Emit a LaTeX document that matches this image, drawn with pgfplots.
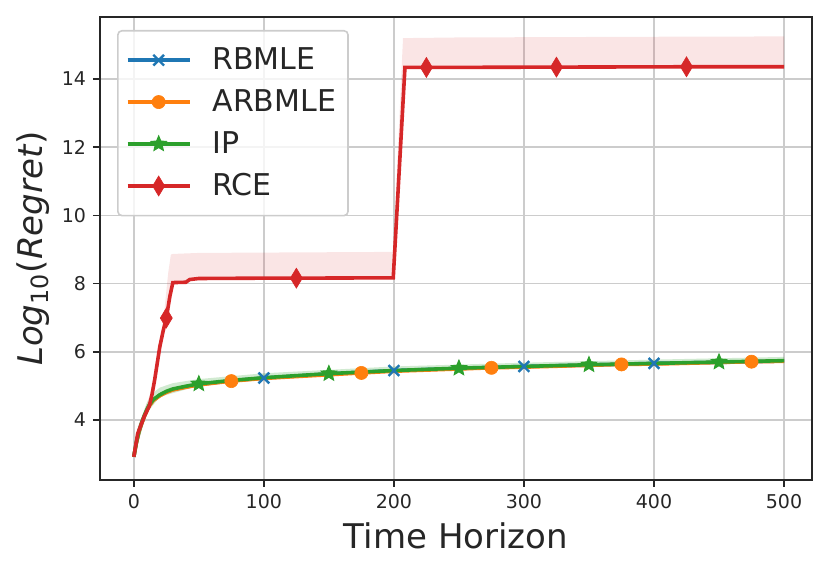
\documentclass[border=0pt]{standalone}
\usepackage{fontspec}
\setmainfont{DejaVu Sans}
\usepackage{pgfplots}
\pgfplotsset{compat=1.18}
\usepgfplotslibrary{fillbetween}
\usetikzlibrary{plotmarks}
\definecolor{tblue}{HTML}{1F77B4}
\definecolor{torange}{HTML}{FF7F0E}
\definecolor{tgreen}{HTML}{2CA02C}
\definecolor{tred}{HTML}{D62728}
\definecolor{spine}{HTML}{262626}
\definecolor{gridc}{HTML}{CCCCCC}
\pgfdeclareplotmark{fstar}{%
  \pgfpathmoveto{\pgfpointpolar{90}{\pgfplotmarksize}}%
  \pgfpathlineto{\pgfpointpolar{126}{0.45\pgfplotmarksize}}%
  \pgfpathlineto{\pgfpointpolar{162}{\pgfplotmarksize}}%
  \pgfpathlineto{\pgfpointpolar{198}{0.45\pgfplotmarksize}}%
  \pgfpathlineto{\pgfpointpolar{234}{\pgfplotmarksize}}%
  \pgfpathlineto{\pgfpointpolar{270}{0.45\pgfplotmarksize}}%
  \pgfpathlineto{\pgfpointpolar{306}{\pgfplotmarksize}}%
  \pgfpathlineto{\pgfpointpolar{342}{0.45\pgfplotmarksize}}%
  \pgfpathlineto{\pgfpointpolar{18}{\pgfplotmarksize}}%
  \pgfpathlineto{\pgfpointpolar{54}{0.45\pgfplotmarksize}}%
  \pgfpathclose\pgfusepathqfillstroke}
\pgfdeclareplotmark{tdiamond}{%
  \pgfpathmoveto{\pgfqpoint{0pt}{\pgfplotmarksize}}%
  \pgfpathlineto{\pgfqpoint{0.6\pgfplotmarksize}{0pt}}%
  \pgfpathlineto{\pgfqpoint{0pt}{-\pgfplotmarksize}}%
  \pgfpathlineto{\pgfqpoint{-0.6\pgfplotmarksize}{0pt}}%
  \pgfpathclose\pgfusepathqfillstroke}
\begin{document}
\begin{tikzpicture}
\begin{axis}[
  name=ax,
  scale only axis,
  width=356pt, height=231.5pt,
  xmin=-26, xmax=521.5,
  ymin=2.24, ymax=15.82,
  xtick={0,100,200,300,400,500},
  ytick={4,6,8,10,12,14},
  grid=major,
  major grid style={gridc, line width=0.8pt},
  axis line style={spine, line width=0.8pt},
  tick align=outside,
  tick pos=left,
  major tick length=3.5pt,
  tick style={spine, line width=0.8pt},
  /pgf/number format/assume math mode=true,
  ticklabel style={font=\fontsize{9.5}{11}\selectfont, text=spine},
  xlabel={Time Horizon},
  ylabel={\textit{Log}\textsubscript{10}(\textit{Regret})},
  label style={font=\fontsize{17}{20}\selectfont, text=spine},
  xlabel style={at={(axis description cs:0.5,-0.121)}, anchor=center},
  ylabel style={at={(axis description cs:-0.094,0.5)}, anchor=center},
  legend cell align=left,
  legend style={at={(0.024,0.972)}, anchor=north west,
    draw=gridc, line width=0.8pt, rounded corners=2pt, fill=white, fill opacity=0.8, text opacity=1,
    font=\fontsize{15}{18}\selectfont, text=spine, inner xsep=4pt, inner ysep=6.5pt, row sep=4.5pt, column sep=8.5pt},
  legend image code/.code={\draw[mark indices={2}, opacity=1, fill opacity=1, draw opacity=1] plot coordinates {(0pt,0pt) (15.5pt,0pt) (31pt,0pt)};},
]
% bands
\addplot[name path=bu, draw=none, forget plot] coordinates {(0,2.95)(5,3.95)(10,4.5)(15,4.8)(20,4.95)(30,5.08)(50,5.2)(100,5.37)(200,5.57)(300,5.68)(400,5.77)(500,5.85)};
\addplot[name path=bl, draw=none, forget plot] coordinates {(0,2.9)(10,4.2)(20,4.68)(50,5.0)(100,5.2)(200,5.42)(300,5.54)(400,5.63)(500,5.7)};
\addplot[fill=tgreen, fill opacity=0.22, draw=none, forget plot] fill between[of=bu and bl];
\addplot[name path=ru, draw=none, forget plot] coordinates {(0,2.95)(3,3.8)(8,4.3)(12,4.7)(17.4,5.38)(20,6.2)(23.8,7.32)(26.4,8.3)(28.5,8.85)(30,8.87)(50,8.9)(100,8.91)(199.5,8.93)(207,15.2)(250,15.22)(400,15.24)(500,15.25)};
\addplot[name path=rl, draw=none, forget plot] coordinates {(0,2.9)(3,3.55)(8,4.05)(12,4.38)(16,5.1)(20,6.1)(25,6.95)(30,8.0)(50,8.14)(199.5,8.16)(208.5,14.33)(500,14.35)};
\addplot[fill=tred, fill opacity=0.12, draw=none, forget plot] fill between[of=ru and rl];
% RBMLE
\addplot[tblue, line width=1.8pt, mark=x, mark size=3.8pt, mark options={line width=1.2pt}, mark indices={15,17,19,21}]
coordinates {(0,2.92)(2,3.34)(4,3.66)(6,3.9)(8,4.1)(10,4.28)(12,4.43)(15,4.58)(20,4.72)(25,4.82)(30,4.89)(40,4.97)(50,5.04)(75,5.15)(100,5.23)(150,5.35)(200,5.45)(250,5.51)(300,5.57)(350,5.61)(400,5.66)(450,5.69)(500,5.73)};
\addlegendentry{RBMLE}
% ARBMLE
\addplot[torange, line width=1.8pt, mark=*, mark size=3.3pt, mark options={line width=0.3pt, draw=torange, fill=torange}, mark indices={14,16,18,20,22}]
coordinates {(0,2.92)(2,3.33)(4,3.65)(6,3.89)(8,4.09)(10,4.27)(12,4.42)(15,4.57)(20,4.71)(25,4.81)(30,4.88)(40,4.96)(50,5.03)(75,5.14)(100,5.22)(175,5.38)(200,5.43)(275,5.53)(300,5.55)(375,5.63)(400,5.64)(475,5.71)(500,5.72)};
\addlegendentry{ARBMLE}
% IP
\addplot[tgreen, line width=1.8pt, mark=fstar, mark size=4pt, mark options={line width=0.5pt, draw=tgreen, fill=tgreen}, mark indices={13,16,18,20,22}]
coordinates {(0,2.92)(2,3.35)(4,3.68)(6,3.92)(8,4.12)(10,4.3)(12,4.45)(15,4.6)(20,4.74)(25,4.84)(30,4.91)(40,4.99)(50,5.06)(75,5.16)(100,5.24)(150,5.36)(200,5.45)(250,5.52)(300,5.57)(350,5.62)(400,5.66)(450,5.70)(500,5.74)};
\addlegendentry{IP}
% RCE
\addplot[tred, line width=1.8pt, mark=tdiamond, mark size=5pt, mark options={line width=0.3pt, draw=tred, fill=tred}, mark indices={9,16,19,20,21}]
coordinates {(0,2.92)(3,3.6)(8,4.1)(12,4.42)(14,4.75)(16,5.17)(20,6.15)(22.5,6.6)(25,6.99)(27.7,7.62)(30,8.03)(40,8.04)(43,8.12)(50,8.15)(100,8.16)(125,8.16)(199.5,8.17)(208.5,14.34)(225,14.34)(325,14.35)(425,14.36)(500,14.36)};
\addlegendentry{RCE}
\end{axis}
\pgfresetboundingbox
\path ([shift={(-50pt,-45.5pt)}]ax.south west) rectangle ([shift={(9pt,8.5pt)}]ax.north east);
\end{tikzpicture}
\end{document}
